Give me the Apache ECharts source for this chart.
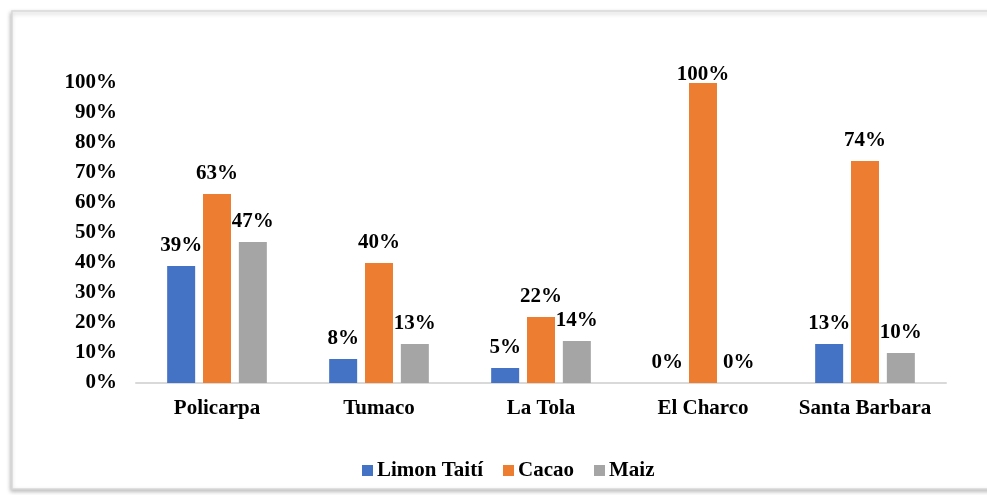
<!DOCTYPE html>
<html>
<head>
<meta charset="utf-8">
<script src="https://cdn.jsdelivr.net/npm/echarts@6/dist/echarts.min.js"></script>
<style>
html,body{margin:0;padding:0;background:#fff;}
#c{width:987px;height:495px;}
</style>
</head>
<body>
<div id="c"></div>
<script>
var categories = ['Policarpa', 'Tumaco', 'La Tola', 'El Charco', 'Santa Barbara'];
var seriesNames = ['Limon Taití', 'Cacao', 'Maiz'];
var limonTaiti = [39, 8, 5, 0, 13];
var cacao = [63, 40, 22, 100, 74];
var maiz = [47, 13, 14, 0, 10];
var colors = ['#4472C4', '#ED7D31', '#A5A5A5'];

var font = '"Liberation Serif", "Times New Roman", serif';
var chart = echarts.init(document.getElementById('c'));

function mk(name, data, color) {
  return {
    name: name,
    type: 'bar',
    data: data.map(function (v) {
      // labels at the very top of the plot are pulled down, as in the reference
      return v >= 100 ? { value: v, label: { distance: -2 } } : v;
    }),
    barWidth: 28,
    barGap: '28%',
    itemStyle: { color: color },
    label: {
      show: true,
      position: 'top',
      distance: 10,
      formatter: '{c}%',
      fontFamily: font,
      fontWeight: 'bold',
      fontSize: 21,
      color: '#000'
    }
  };
}

chart.setOption({
  animation: false,
  color: colors,
  graphic: [
    {
      type: 'rect',
      silent: true,
      z: -10,
      shape: { x: 12, y: 11, width: 1100, height: 478 },
      style: {
        fill: '#fff',
        stroke: '#d9d9d9',
        lineWidth: 1.5,
        shadowBlur: 4,
        shadowColor: 'rgba(0,0,0,0.25)',
        shadowOffsetX: -1,
        shadowOffsetY: 2
      }
    }
  ],
  grid: { left: 136, right: 41, top: 83, bottom: 112, containLabel: false },
  legend: {
    data: seriesNames,
    top: 455,
    left: 357,
    itemWidth: 11,
    itemHeight: 11,
    itemGap: 20,
    icon: 'rect',
    textStyle: { fontFamily: font, fontWeight: 'bold', fontSize: 21, color: '#000', padding: [0, 0, 0, -1] }
  },
  xAxis: {
    type: 'category',
    data: categories,
    axisLine: { show: true, lineStyle: { color: '#d9d9d9', width: 2 } },
    axisTick: { show: false },
    axisLabel: { interval: 0, fontFamily: font, fontWeight: 'bold', fontSize: 21, color: '#000', margin: 15 }
  },
  yAxis: {
    type: 'value',
    min: 0,
    max: 100,
    interval: 10,
    splitLine: { show: false },
    axisLine: { show: false },
    axisTick: { show: false },
    axisLabel: { formatter: '{value}%', fontFamily: font, fontWeight: 'bold', fontSize: 21, color: '#000', margin: 19 }
  },
  series: [
    mk(seriesNames[0], limonTaiti, colors[0]),
    mk(seriesNames[1], cacao, colors[1]),
    mk(seriesNames[2], maiz, colors[2])
  ]
});
</script>
</body>
</html>
